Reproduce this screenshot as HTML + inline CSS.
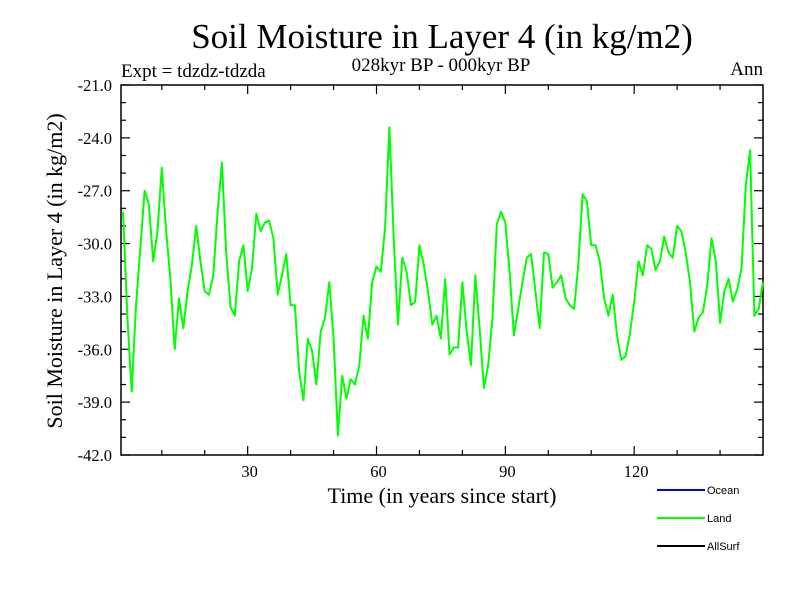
<!DOCTYPE html>
<html><head><meta charset="utf-8"><style>
html,body{margin:0;padding:0;background:#fff;}
svg text{font-family:"Liberation Serif",serif;fill:#000;}
</style></head><body>
<svg id="chart" width="800" height="600" viewBox="0 0 800 600" xmlns="http://www.w3.org/2000/svg">
<rect x="0" y="0" width="800" height="600" fill="#fff"/>
<text x="442" y="48" font-size="35" text-anchor="middle">Soil Moisture in Layer 4 (in kg/m2)</text>
<text x="121" y="77" font-size="19">Expt = tdzdz-tdzda</text>
<text x="441" y="71" font-size="19" text-anchor="middle">028kyr BP - 000kyr BP</text>
<text x="763" y="75" font-size="19" text-anchor="end">Ann</text>
<text transform="translate(62,271) rotate(-90)" font-size="22" text-anchor="middle">Soil Moisture in Layer 4 (in kg/m2)</text>
<text x="442" y="503" font-size="22" text-anchor="middle">Time (in years since start)</text>
<g id="axes"></g>
<g id="series"></g>
<g>
  <line x1="657" y1="490" x2="705" y2="490" stroke="#0000ff" stroke-width="2"/>
  <text x="707" y="494" font-size="11" style="font-family:'Liberation Sans',sans-serif">Ocean</text>
  <line x1="657" y1="518" x2="705" y2="518" stroke="#00ff00" stroke-width="2"/>
  <text x="707" y="522" font-size="11" style="font-family:'Liberation Sans',sans-serif">Land</text>
  <line x1="657" y1="546" x2="705" y2="546" stroke="#000" stroke-width="2"/>
  <text x="707" y="550" font-size="11" style="font-family:'Liberation Sans',sans-serif">AllSurf</text>
</g>
</svg>
<script>
const landValues = [-28.2,-34.2,-38.4,-33.5,-30.3,-27.0,-27.8,-31.0,-29.3,-25.7,
-29.3,-32.0,-36.0,-33.1,-34.8,-32.7,-31.2,-29.0,-31.0,-32.7,
-32.9,-31.8,-28.2,-25.4,-30.5,-33.6,-34.1,-31.0,-30.1,-32.7,
-31.4,-28.3,-29.3,-28.8,-28.7,-29.7,-32.9,-31.8,-30.6,-33.5,
-33.5,-37.3,-38.9,-35.4,-36.1,-38.0,-35.0,-34.2,-32.2,-35.4,
-40.9,-37.5,-38.8,-37.7,-38.0,-36.9,-34.1,-35.4,-32.2,-31.3,
-31.6,-29.1,-23.4,-29.7,-34.6,-30.8,-31.6,-33.5,-33.3,-30.1,
-31.2,-32.7,-34.6,-34.1,-35.4,-32.0,-36.3,-35.9,-35.9,-32.2,
-35.0,-36.9,-31.8,-34.8,-38.2,-36.9,-34.2,-28.9,-28.2,-28.8,
-31.6,-35.2,-33.7,-32.2,-30.8,-30.6,-32.7,-34.8,-30.5,-30.6,
-32.5,-32.2,-31.8,-33.1,-33.5,-33.7,-31.2,-27.2,-27.6,-30.1,
-30.1,-31.0,-33.1,-34.1,-32.9,-35.2,-36.6,-36.4,-35.1,-33.3,
-31.0,-31.8,-30.1,-30.3,-31.5,-31.0,-29.6,-30.5,-30.8,-29.0,
-29.3,-30.5,-32.2,-35.0,-34.2,-33.9,-32.4,-29.7,-31.0,-34.5,
-32.7,-32.0,-33.3,-32.6,-31.4,-26.7,-24.7,-34.1,-33.7,-32.2];
const years = landValues.map((v,i)=>i+1);
const xTickLabels = ["30","60","90","120"];
const xTickValues = [30,60,90,120];
const yTickValues = [-21,-24,-27,-30,-33,-36,-39,-42];
const yTickLabels = ["-21.0","-24.0","-27.0","-30.0","-33.0","-36.0","-39.0","-42.0"];

const L=121,R=763,T=85,B=455, X0=0.5,X1=150, Y0=-42,Y1=-21;
const sx = t => L + (t-X0)/(X1-X0)*(R-L);
const sy = v => B - (v-Y0)/(Y1-Y0)*(B-T);
const NS="http://www.w3.org/2000/svg";
const axes=document.getElementById('axes');
function mk(tag,attrs,parent){const e=document.createElementNS(NS,tag);for(const k in attrs)e.setAttribute(k,attrs[k]);parent.appendChild(e);return e;}

const frame=mk('rect',{x:L,y:T,width:R-L,height:B-T,fill:'none',stroke:'#000','stroke-width':1.5},axes);



for(let v=-42; v<=-21; v++){
  const major = (v%3===0);
  const len = major?9:5, y=sy(v);
  const t1=mk('line',{x1:L,y1:y,x2:L+len,y2:y,stroke:'#000','stroke-width':1.2},axes);
  
  
  const t2=mk('line',{x1:R,y1:y,x2:R-len,y2:y,stroke:'#000','stroke-width':1.2},axes);
  
  
}
yTickValues.forEach((v,i)=>{
  const tx=mk('text',{x:112,y:sy(v)+6,'font-size':16.5,'text-anchor':'end'},axes);
  tx.textContent=yTickLabels[i];
  
  
});
for(let t=10;t<=150;t+=10){
  const major=(t%30===0), len=major?9:5, x=sx(t);
  if(x>R-1) continue;
  const a=mk('line',{x1:x,y1:B,x2:x,y2:B-len,stroke:'#000','stroke-width':1.2},axes);
  
  
  const b=mk('line',{x1:x,y1:T,x2:x,y2:T+len,stroke:'#000','stroke-width':1.2},axes);
  
  
}
xTickValues.forEach((t,i)=>{
  const tx=mk('text',{x:sx(t)+2,y:477,'font-size':16.5,'text-anchor':'middle'},axes);
  tx.textContent=xTickLabels[i];
  
  
});
const d=years.map((t,i)=>(i?'L':'M')+sx(t).toFixed(1)+','+sy(landValues[i]).toFixed(1)).join(' ');
const line=mk('path',{d:d,fill:'none',stroke:'#00ff00','stroke-width':2,'stroke-linejoin':'round'},document.getElementById('series'));


</script>
</body></html>
